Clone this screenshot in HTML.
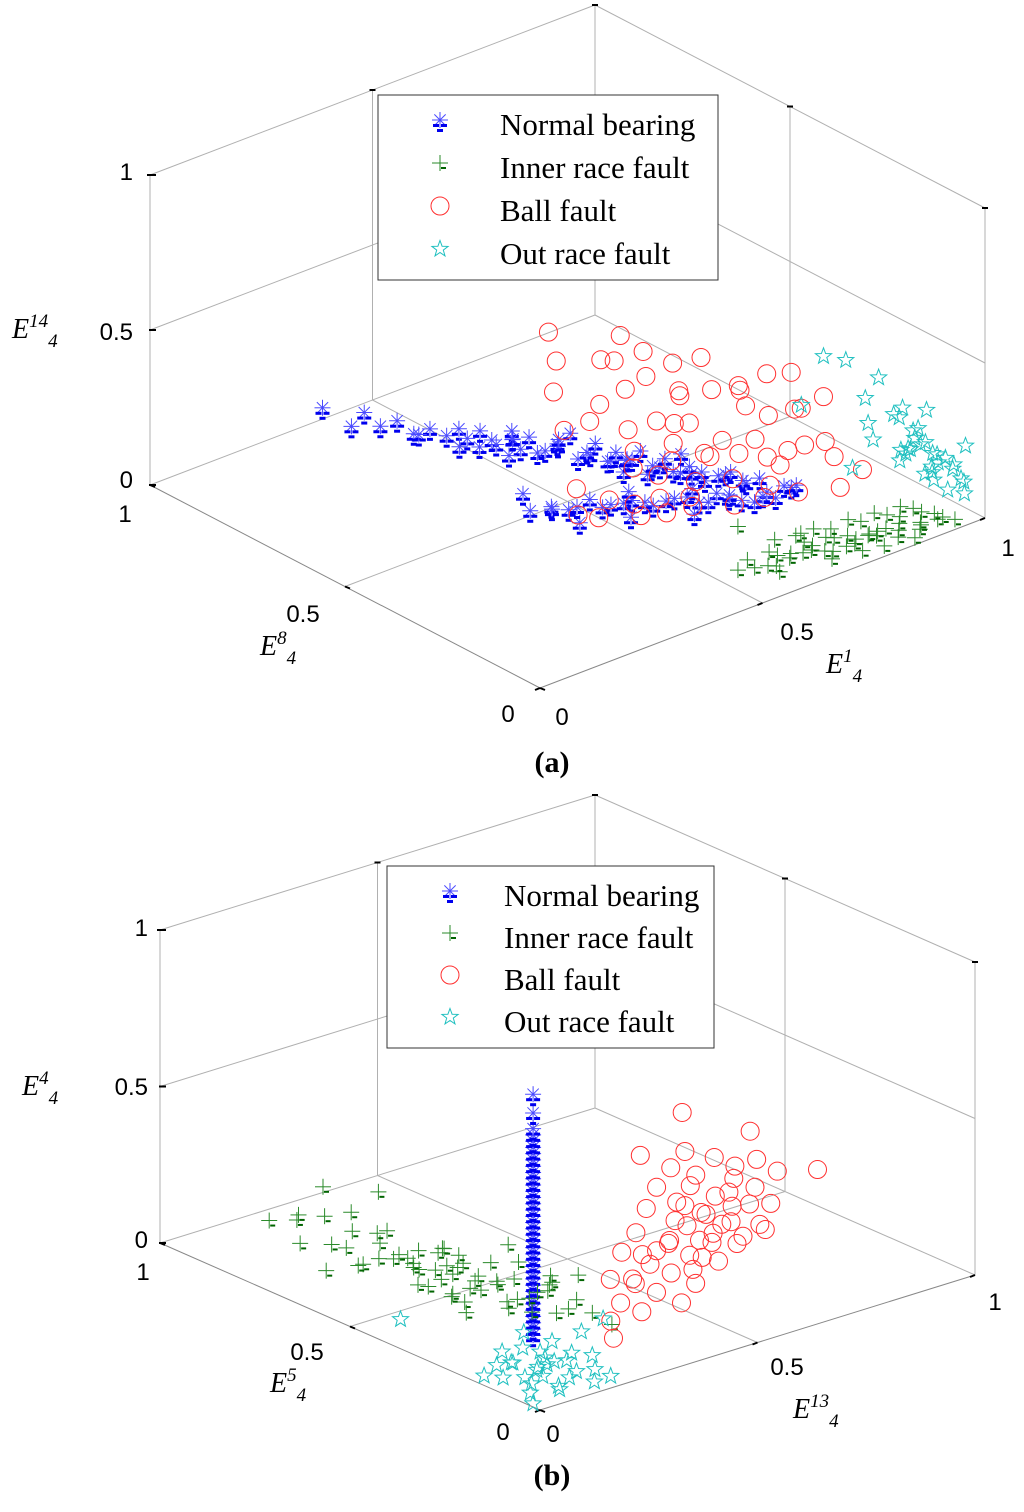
<!DOCTYPE html>
<html><head><meta charset="utf-8"><style>
body{margin:0;background:#fff}
svg text{font-family:"Liberation Sans",sans-serif}
.ser{font-family:"Liberation Serif",serif}
</style></head><body>
<svg id="svg" width="1024" height="1507" viewBox="0 0 1024 1507" xmlns="http://www.w3.org/2000/svg">
<g id="ga"></g>
<g id="gb"></g>
</svg>
<script>
// ---------- data panel (a): [E1, E8, E14] ----------
const aNormal=[[0.30,0.90,0.15],[0.33,0.86,0.10],[0.35,0.85,0.14],[0.36,0.82,0.11],[0.38,0.80,0.13],[0.40,0.78,0.09],[0.41,0.75,0.12],[0.43,0.73,0.10],[0.44,0.71,0.13],[0.46,0.68,0.08],[0.47,0.66,0.11],[0.49,0.63,0.12],[0.50,0.62,0.09],[0.52,0.58,0.10],[0.53,0.56,0.13],[0.55,0.53,0.09],[0.56,0.51,0.11],[0.58,0.48,0.10],[0.59,0.45,0.12],[0.61,0.42,0.08],[0.62,0.40,0.11],[0.64,0.37,0.10],[0.66,0.33,0.09],[0.68,0.30,0.12],[0.70,0.27,0.10],[0.72,0.24,0.08],[0.74,0.20,0.11],[0.45,0.72,0.06],[0.50,0.65,0.05],[0.55,0.55,0.16],[0.60,0.47,0.06],[0.65,0.38,0.15],[0.48,0.62,0.16],[0.42,0.79,0.07],[0.57,0.43,0.14],[0.63,0.33,0.13],[0.67,0.28,0.06],[0.39,0.47,0.05],[0.42,0.45,0.06],[0.45,0.44,0.04],[0.48,0.42,0.07],[0.51,0.40,0.05],[0.54,0.38,0.06],[0.57,0.36,0.04],[0.60,0.34,0.06],[0.63,0.31,0.05],[0.66,0.30,0.07],[0.69,0.27,0.05],[0.72,0.25,0.06],[0.44,0.40,0.03],[0.52,0.36,0.03],[0.61,0.30,0.03],[0.40,0.50,0.08],
[0.45,0.70,0.10],[0.47,0.69,0.12],[0.48,0.66,0.09],[0.50,0.64,0.11],[0.51,0.61,0.13],[0.52,0.60,0.08],[0.54,0.57,0.11],[0.55,0.58,0.12],[0.57,0.53,0.10],[0.58,0.52,0.13],[0.59,0.50,0.08],[0.60,0.49,0.11],[0.61,0.46,0.10],[0.62,0.45,0.13],[0.63,0.43,0.09],[0.64,0.41,0.12],[0.65,0.40,0.08],[0.66,0.37,0.11],[0.67,0.35,0.10],[0.69,0.33,0.09],[0.70,0.31,0.11],[0.71,0.29,0.09],[0.73,0.27,0.10],[0.75,0.23,0.09],[0.76,0.21,0.10],[0.46,0.43,0.05],[0.50,0.41,0.04],[0.53,0.39,0.05],[0.56,0.37,0.05],[0.59,0.35,0.05],[0.62,0.33,0.06],[0.65,0.31,0.04],[0.68,0.29,0.06],[0.71,0.26,0.04],[0.74,0.24,0.05],[0.43,0.46,0.04],[0.55,0.40,0.07],[0.64,0.34,0.07]];
const aInner=[[0.55,0.12,0],[0.58,0.13,0.01],[0.60,0.10,0],[0.62,0.12,0.02],[0.64,0.09,0.01],[0.66,0.11,0],[0.68,0.08,0.02],[0.70,0.10,0.01],[0.72,0.07,0],[0.74,0.09,0.02],[0.76,0.06,0.01],[0.78,0.08,0],[0.80,0.05,0.02],[0.82,0.07,0.01],[0.84,0.04,0],[0.86,0.06,0.02],[0.88,0.03,0.01],[0.90,0.05,0],[0.92,0.03,0.02],[0.94,0.04,0.01],[0.65,0.14,0.03],[0.70,0.13,0.03],[0.75,0.11,0.03],[0.80,0.09,0.04],[0.85,0.08,0.04],[0.90,0.07,0.04],[0.60,0.07,0],[0.70,0.05,0],[0.80,0.03,0],[0.62,0.20,0.05],
[0.57,0.10,0.01],[0.61,0.09,0.0],[0.63,0.11,0.01],[0.67,0.09,0.01],[0.69,0.11,0.02],[0.71,0.08,0.0],[0.73,0.10,0.02],[0.75,0.07,0.0],[0.77,0.09,0.01],[0.79,0.06,0.02],[0.81,0.08,0.0],[0.83,0.06,0.02],[0.85,0.05,0.01],[0.87,0.07,0.03],[0.89,0.04,0.02],[0.91,0.06,0.03],[0.93,0.05,0.02],[0.95,0.02,0.01],[0.72,0.12,0.04],[0.78,0.10,0.05],[0.83,0.09,0.05],[0.88,0.08,0.05],[0.68,0.12,0.04],[0.76,0.04,0.0],[0.86,0.02,0.0]];
const aBall=[[0.72,0.55,0.25],[0.75,0.50,0.22],[0.78,0.45,0.24],[0.80,0.40,0.26],[0.82,0.35,0.20],[0.85,0.30,0.24],[0.70,0.50,0.15],[0.73,0.45,0.16],[0.76,0.40,0.12],[0.79,0.35,0.14],[0.82,0.30,0.12],[0.86,0.25,0.16],[0.68,0.55,0.10],[0.72,0.48,0.08],[0.75,0.42,0.06],[0.78,0.38,0.08],[0.82,0.32,0.06],[0.88,0.25,0.10],[0.66,0.45,0.03],[0.70,0.40,0.02],[0.74,0.35,0.04],[0.78,0.30,0.03],[0.62,0.40,0.01],[0.58,0.42,0.0],[0.55,0.45,0.01],[0.65,0.35,0.0],[0.70,0.30,0.01],[0.75,0.28,0.02],[0.80,0.25,0.03],[0.85,0.20,0.05],[0.68,0.62,0.28],[0.74,0.58,0.30],[0.80,0.50,0.30],[0.86,0.40,0.28],[0.65,0.70,0.24],[0.60,0.65,0.20],[0.62,0.58,0.14],[0.65,0.50,0.08],[0.90,0.30,0.25],[0.84,0.45,0.22],[0.75,0.65,0.30],[0.65,0.72,0.32],[0.52,0.50,0.03],[0.48,0.45,0.0],[0.90,0.20,0.08],[0.70,0.58,0.20],[0.77,0.52,0.18],[0.83,0.42,0.18],[0.66,0.60,0.16],[0.72,0.40,0.10],[0.80,0.33,0.09],[0.74,0.50,0.12],[0.69,0.45,0.06],[0.84,0.28,0.14],[0.63,0.48,0.05],[0.60,0.36,0.0],[0.56,0.38,0.0],[0.87,0.34,0.20],[0.71,0.62,0.26],[0.78,0.55,0.26],[0.88,0.36,0.30],[0.58,0.60,0.12],[0.50,0.42,0.0],[0.67,0.38,0.0]];
const aOuter=[[0.98,0.10,0.15],[0.96,0.12,0.18],[1.0,0.08,0.12],[0.97,0.15,0.20],[0.99,0.05,0.10],[0.95,0.08,0.14],[0.97,0.20,0.22],[1.0,0.15,0.25],[0.98,0.18,0.10],[0.96,0.05,0.08],[0.94,0.15,0.12],[0.99,0.12,0.05],[1.0,0.22,0.18],[0.93,0.22,0.20],[0.95,0.25,0.25],[0.92,0.10,0.20],[0.90,0.30,0.38],[0.95,0.30,0.34],[0.88,0.15,0.22],[0.86,0.18,0.12],[0.85,0.30,0.25],[0.98,0.25,0.30],[1.0,0.05,0.20],[0.97,0.02,0.12],
[0.97,0.10,0.16],[0.99,0.09,0.14],[0.98,0.13,0.17],[1.0,0.12,0.10],[0.96,0.09,0.11],[0.98,0.06,0.13],[0.99,0.16,0.19],[0.97,0.12,0.08],[1.0,0.18,0.14],[0.95,0.14,0.16],[0.98,0.03,0.07],[0.99,0.20,0.23],[0.96,0.17,0.13]];
// ---------- data panel (b): [E13, E5, E4] ----------
const bColumnX=0.22, bColumnY=0.27;
const bNormalZ=[0,0.02,0.04,0.06,0.08,0.10,0.12,0.14,0.16,0.18,0.20,0.22,0.24,0.26,0.28,0.30,0.32,0.34,0.36,0.38,0.40,0.42,0.44,0.46,0.48,0.50,0.52,0.54,0.56,0.58,0.60,0.62,0.64,0.66,0.71,0.77];
const bInner=[[0.12,0.85,0.10],[0.14,0.80,0.12],[0.13,0.78,0.06],[0.16,0.75,0.15],[0.15,0.72,0.08],[0.18,0.70,0.12],[0.17,0.66,0.04],[0.20,0.65,0.10],[0.19,0.62,0.16],[0.22,0.60,0.07],[0.21,0.56,0.12],[0.24,0.55,0.05],[0.23,0.52,0.14],[0.26,0.50,0.09],[0.25,0.47,0.03],[0.28,0.45,0.11],[0.27,0.42,0.06],[0.30,0.40,0.13],[0.29,0.36,0.04],[0.31,0.33,0.09],[0.30,0.30,0.02],[0.32,0.27,0.07],[0.33,0.24,0.04],[0.28,0.55,0.02],[0.25,0.62,0.03],[0.20,0.55,0.02],[0.18,0.50,0.05],[0.22,0.45,0.01],[0.15,0.60,0.18],[0.16,0.68,0.20],[0.10,0.75,0.18],[0.12,0.70,0.02],[0.26,0.38,0.01],[0.35,0.30,0.12],[0.34,0.20,0.02],[0.24,0.70,0.22],[0.20,0.80,0.20],[0.28,0.30,0.10],[0.32,0.45,0.15],[0.36,0.38,0.05],[0.18,0.40,0.02],[0.23,0.35,0.06],
[0.20,0.60,0.09],[0.22,0.57,0.05],[0.24,0.52,0.08],[0.25,0.50,0.12],[0.26,0.46,0.07],[0.27,0.48,0.04],[0.21,0.50,0.06],[0.23,0.48,0.10],[0.19,0.55,0.08],[0.17,0.58,0.10],[0.24,0.43,0.05],[0.29,0.40,0.08],[0.28,0.38,0.03],[0.25,0.40,0.09],[0.22,0.52,0.13],[0.18,0.63,0.07],[0.14,0.67,0.10],[0.30,0.35,0.06],[0.26,0.55,0.11],[0.21,0.47,0.03],[0.31,0.28,0.04],[0.27,0.33,0.02],[0.33,0.35,0.10],[0.15,0.65,0.05],[0.19,0.45,0.04]];
const bBall=[[0.32,0.18,0.05],[0.36,0.20,0.08],[0.40,0.19,0.04],[0.42,0.23,0.10],[0.46,0.22,0.06],[0.48,0.26,0.12],[0.52,0.25,0.08],[0.54,0.28,0.15],[0.58,0.27,0.10],[0.60,0.30,0.17],[0.62,0.29,0.12],[0.65,0.32,0.18],[0.68,0.30,0.14],[0.70,0.34,0.20],[0.73,0.33,0.16],[0.76,0.36,0.22],[0.80,0.35,0.18],[0.83,0.38,0.24],[0.86,0.36,0.20],[0.55,0.35,0.22],[0.60,0.38,0.25],[0.65,0.40,0.28],[0.70,0.42,0.30],[0.50,0.20,0.02],[0.55,0.22,0.05],[0.62,0.24,0.08],[0.68,0.26,0.10],[0.75,0.28,0.12],[0.45,0.30,0.15],[0.50,0.32,0.18],[0.58,0.40,0.35],[0.72,0.45,0.40],[0.90,0.30,0.22],[0.78,0.30,0.08],[0.38,0.25,0.12],[0.30,0.15,0.02],[0.85,0.42,0.30],[0.66,0.36,0.24],
[0.56,0.30,0.14],[0.59,0.32,0.18],[0.63,0.34,0.20],[0.67,0.33,0.16],[0.71,0.31,0.13],[0.74,0.35,0.19],[0.77,0.33,0.15],[0.64,0.28,0.11],[0.57,0.25,0.07],[0.53,0.30,0.12],[0.69,0.38,0.25],[0.62,0.35,0.21],[0.78,0.38,0.24],[0.81,0.32,0.14],[0.72,0.29,0.09],[0.44,0.26,0.09],[0.48,0.28,0.14],[0.66,0.30,0.12],[0.75,0.40,0.27],[0.60,0.26,0.09]];
const bOuter=[[0.05,0.08,0.02],[0.08,0.10,0.04],[0.03,0.06,0.01],[0.10,0.12,0.03],[0.06,0.14,0.05],[0.12,0.06,0.02],[0.02,0.12,0.03],[0.14,0.09,0.05],[0.08,0.04,0.01],[0.04,0.16,0.04],[0.16,0.10,0.06],[0.10,0.16,0.07],[0.13,0.13,0.02],[0.17,0.05,0.03],[0.07,0.18,0.06],[0.15,0.14,0.08],[0.09,0.47,0.0],[0.18,0.02,0.02],[0.12,0.18,0.10],[0.01,0.03,0.0],[0.16,0.04,0.0],[0.20,0.12,0.10],[0.05,0.05,0.06],[0.09,0.09,0.08],[0.11,0.03,0.06],[0.03,0.11,0.08],[0.14,0.16,0.04],[0.07,0.12,0.01],[0.12,0.10,0.05],[0.19,0.08,0.05],[0.02,0.17,0.01],[0.06,0.02,0.04],[0.25,0.12,0.12]];
const tickLabels=["0","0.5","1"];
const legendNames=["Normal bearing","Inner race fault","Ball fault","Out race fault"];

const NS="http://www.w3.org/2000/svg";
function mk(parent,tag,attrs){const e=document.createElementNS(NS,tag);for(const k in attrs)e.setAttribute(k,attrs[k]);parent.appendChild(e);return e;}

function marker(g,kind,x,y){
  const m=mk(g,'g',{});
  if(kind==='normal'){
    
    
    for(let a=0;a<180;a+=45){const r=a*Math.PI/180;mk(m,'line',{x1:x-8*Math.cos(r),y1:y-8*Math.sin(r),x2:x+8*Math.cos(r),y2:y+8*Math.sin(r),stroke:'#4a4aff','stroke-width':1});}
    mk(m,'rect',{x:x-7,y:y+4,width:6,height:3,fill:'#0000ee'});
    mk(m,'rect',{x:x+1,y:y+4,width:6,height:3,fill:'#0000ee'});
    mk(m,'rect',{x:x-3,y:y+9,width:6,height:3,fill:'#0000ee'});
  }else if(kind==='inner'){
    
    
    mk(m,'line',{x1:x-8,y1:y,x2:x+8,y2:y,stroke:'#2a8a2a','stroke-width':1});
    mk(m,'line',{x1:x,y1:y-8,x2:x,y2:y+8,stroke:'#2a8a2a','stroke-width':1});
    mk(m,'rect',{x:x+1,y:y+4,width:5,height:2,fill:'#006400'});
  }else if(kind==='ball'){
    
    
    mk(m,'circle',{cx:x,cy:y,r:9,fill:'none',stroke:'#ff3030','stroke-width':1});
  }else{
    
    
    let p=[];for(let i=0;i<10;i++){const r=(i%2?3.5:8.5),a=-Math.PI/2+i*Math.PI/5;p.push((x+r*Math.cos(a)).toFixed(1)+','+(y+r*Math.sin(a)).toFixed(1));}
    mk(m,'polygon',{points:p.join(' '),fill:'none',stroke:'#20c0c0','stroke-width':1});
  }
}

function chart(g,cfg){
  const P=(x,y,z)=>[cfg.O[0]+x*cfg.R[0]+y*cfg.L[0],cfg.O[1]+x*cfg.R[1]+y*cfg.L[1]-z*cfg.H];
  const line=(a,b,name,col,w)=>{const l=mk(g,'line',{x1:a[0],y1:a[1],x2:b[0],y2:b[1],stroke:col||'#b0b0b0','stroke-width':w||1});};
  line(P(0,1,0),P(1,1,0),'floor-edge-back-left');line(P(1,1,0),P(1,0,0),'floor-edge-back-right');
  line(P(0,1,1),P(1,1,1),'top-edge-left');line(P(1,1,1),P(1,0,1),'top-edge-right');
  line(P(0,1,0),P(0,1,1),'vertical-edge-left');line(P(1,1,0),P(1,1,1),'vertical-edge-back');line(P(1,0,0),P(1,0,1),'vertical-edge-right');
  line(P(0,1,0.5),P(1,1,0.5),'grid-z-left-wall');line(P(1,1,0.5),P(1,0,0.5),'grid-z-right-wall');
  line(P(0.5,1,0),P(0.5,1,1),'grid-x-wall');line(P(1,0.5,0),P(1,0.5,1),'grid-y-wall');
  line(P(0.5,0,0),P(0.5,1,0),'grid-x-floor');line(P(0,0.5,0),P(1,0.5,0),'grid-y-floor');
  line(P(0,0,0),P(0,1,0),'y-axis-line','#888');line(P(0,0,0),P(1,0,0),'x-axis-line','#888');
  for(let i=0;i<3;i++){const v=i/2;
    let p=P(0,1,v);line([p[0]-1,p[1]],[p[0]+6,p[1]],'z-tick','#000',2);
    p=P(0,v,0);line([p[0],p[1]],[p[0]+5,p[1]+2],'y-tick','#000',2);
    p=P(v,0,0);line([p[0],p[1]],[p[0]-5,p[1]+2],'x-tick','#000',2);
    p=P(v,1,1);line([p[0]-3,p[1]],[p[0]+3,p[1]],'top-tick','#000',2);
    p=P(1,v,1);line([p[0]-3,p[1]],[p[0]+3,p[1]],'top-tick','#000',2);
  }
  const txt=(x,y,s,name,anchor)=>{const t=mk(g,'text',{x:x,y:y,'font-size':24,'text-anchor':anchor||'middle'});t.textContent=s;};
  cfg.zl.forEach((q,i)=>txt(q[0],q[1],tickLabels[i],'z-tick-label','end'));
  cfg.yl.forEach((q,i)=>txt(q[0],q[1],tickLabels[i],'y-tick-label'));
  cfg.xl.forEach((q,i)=>txt(q[0],q[1],tickLabels[i],'x-tick-label'));
  const title=(q,sup,name)=>{const t=mk(g,'text',{x:q[0],y:q[1],'font-size':28,'font-style':'italic','class':'ser'});
    t.innerHTML='E<tspan dy="-11" font-size="19">'+sup+'</tspan><tspan dy="20" font-size="19">4</tspan>';};
  title(cfg.zt,cfg.zs,'z-axis-title');title(cfg.yt,cfg.ys,'y-axis-title');title(cfg.xt,cfg.xs,'x-axis-title');
  const sg=(n)=>{const s=mk(g,'g',{});return s;};
  const s1=sg('series-normal-bearing');cfg.normal.forEach(d=>{const p=P(d[0],d[1],d[2]);marker(s1,'normal',p[0],p[1]);});
  const s2=sg('series-inner-race-fault');cfg.inner.forEach(d=>{const p=P(d[0],d[1],d[2]);marker(s2,'inner',p[0],p[1]);});
  const s3=sg('series-ball-fault');cfg.ball.forEach(d=>{const p=P(d[0],d[1],d[2]);marker(s3,'ball',p[0],p[1]);});
  const s4=sg('series-out-race-fault');cfg.outer.forEach(d=>{const p=P(d[0],d[1],d[2]);marker(s4,'outer',p[0],p[1]);});
  const lg=mk(g,'g',{});
  const b=cfg.leg;mk(lg,'rect',{x:b[0],y:b[1],width:b[2],height:b[3],fill:'#fff',stroke:'#333','stroke-width':1});
  const kinds=['normal','inner','ball','outer'];
  for(let i=0;i<4;i++){const y=b[1]+31+i*b[4];
    const e=mk(lg,'g',{});
    marker(e,kinds[i],b[0]+b[5],y-6);
    const t=mk(e,'text',{x:b[0]+b[6],y:y+9,'font-size':31,'class':'ser'});t.textContent=legendNames[i];}
  const cap=mk(g,'text',{x:cfg.cap[0],y:cfg.cap[1],'font-size':30,'font-weight':'bold','text-anchor':'middle','class':'ser'});
  
  cap.textContent='('+cfg.capText+')';
}
const bNormal=bNormalZ.map(z=>[bColumnX,bColumnY,z]);
chart(document.getElementById('ga'),{O:[540,688],R:[445,-170],L:[-390,-203],H:310,
  zl:[[133,488],[133,340],[133,180]],yl:[[508,722],[303,622],[125,522]],xl:[[562,725],[797,640],[1008,556]],
  zt:[12,338],zs:'14',yt:[260,655],ys:'8',xt:[826,673],xs:'1',
  normal:aNormal,inner:aInner,ball:aBall,outer:aOuter,leg:[378,95,340,185,43,62,122],cap:[552,772],capText:'a'});
chart(document.getElementById('gb'),{O:[540,1410],R:[435,-135],L:[-380,-167],H:313,
  zl:[[148,1248],[148,1095],[148,936]],yl:[[503,1440],[307,1360],[143,1280]],xl:[[553,1442],[787,1375],[995,1310]],
  zt:[22,1095],zs:'4',yt:[270,1392],ys:'5',xt:[793,1418],xs:'13',
  normal:bNormal,inner:bInner,ball:bBall,outer:bOuter,leg:[387,866,327,182,42,63,117],cap:[552,1485],capText:'b'});
</script>
</body></html>
